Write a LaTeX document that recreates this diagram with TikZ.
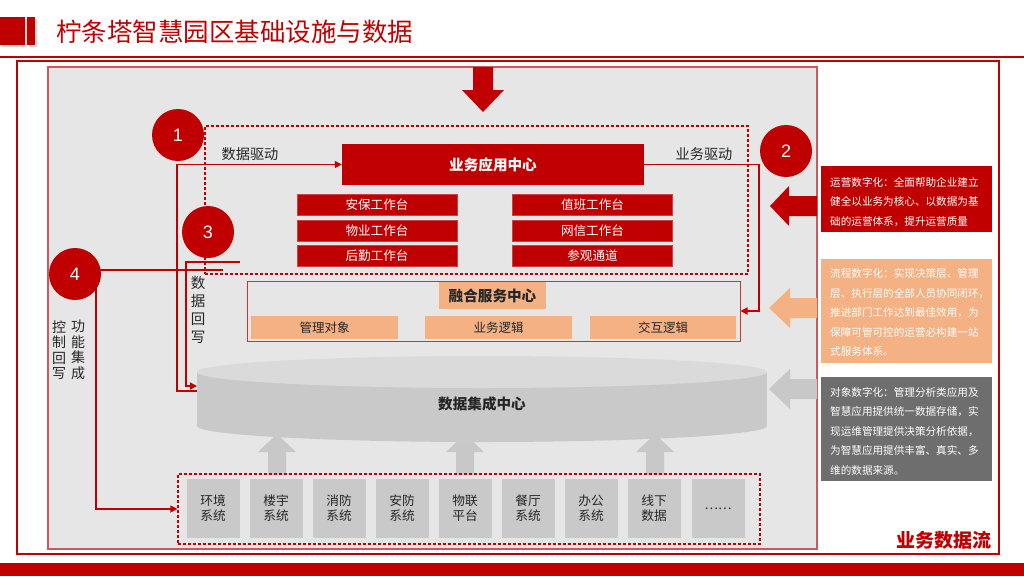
\documentclass[tikz,border=0pt]{standalone}
\usepackage{fontspec}
\setmainfont{Noto Sans CJK SC}
\newfontfamily\numf{Liberation Sans}
\usetikzlibrary{arrows.meta}
\definecolor{cred}{HTML}{C00000}
\definecolor{peach}{HTML}{F4B183}
\definecolor{bggray}{HTML}{E6E6E6}
\definecolor{boxgray}{HTML}{C9C9C9}
\definecolor{arrgray}{HTML}{C8C8C8}
\definecolor{darkbox}{HTML}{6E6E6E}
\definecolor{frametwo}{HTML}{D0585C}
\definecolor{cyltop}{HTML}{DADADA}
\definecolor{txtdark}{HTML}{262626}
\newcommand\fs[1]{\fontsize{#1}{#1}\selectfont}
\begin{document}
\begin{tikzpicture}[x=1pt,y=-1pt,
  numc/.style={circle, fill=cred, minimum size=52pt, inner sep=0pt, text=white, font=\numf\fs{18}},
  redbox/.style={fill=cred, draw=cred!75!white, line width=0.6pt, text=white, inner sep=0pt, minimum height=21pt, minimum width=160pt, font=\fs{12.6}},
  peachbox/.style={fill=peach, inner sep=0pt, minimum height=23pt, font=\fs{12.5}, text=txtdark},
  sysbox/.style={fill=boxgray, inner sep=0pt, minimum width=53pt, minimum height=59pt, align=center, font=\fontsize{12.7}{15}\selectfont, text=txtdark},
  conn/.style={draw=cred, line width=1.3pt},
  arr/.style={-{Triangle[length=7pt,width=7pt]}},
  dashbox/.style={draw=cred, line width=1.2pt, dash pattern=on 3pt off 2pt},
  lbl/.style={font=\fs{14.2}, text=txtdark, inner sep=0pt},
  vlbl/.style={font=\fontsize{14}{15.5}\selectfont, align=center, text=txtdark, inner sep=0pt},
  sidetxt/.style={anchor=west, align=left, text=white, inner sep=0pt, font=\fontsize{10.6}{19.5}\selectfont}
]
\useasboundingbox (0,0) rectangle (1024,576);
\fill[white] (0,0) rectangle (1024,576);
% title
\fill[gray!30] (2,19) rectangle (27,47);
\fill[gray!30] (29,19) rectangle (37,47);
\fill[cred] (0,17) rectangle (25,45);
\fill[cred] (27,17) rectangle (35,45);
\node[anchor=west, text=cred, font=\fs{25.5}, inner sep=0pt] (title) at (56,32) {柠条塔智慧园区基础设施与数据};
\draw[cred, line width=2.2pt] (0,57) -- (1024,57);
% frames
\draw[cred, line width=1.5pt, fill=white] (17,61) rectangle (999,554);
\draw[frametwo, line width=1.5pt, fill=bggray] (48,67) rectangle (817,549);
\fill[cred] (0,563) rectangle (1024,576);
% top arrow
\fill[cred] (473,67) -- (493,67) -- (493,90) -- (504,90) -- (483,112) -- (462,90) -- (473,90) -- cycle;
% right arrows
\fill[cred] (770,206) -- (789,186) -- (789,196) -- (817,196) -- (817,216) -- (789,216) -- (789,226) -- cycle;
\fill[peach] (769,308) -- (790,288) -- (790,298) -- (817,298) -- (817,318) -- (790,318) -- (790,328) -- cycle;
\fill[arrgray] (769,389) -- (790,369) -- (790,379) -- (817,379) -- (817,399) -- (790,399) -- (790,409) -- cycle;
% up arrows
\foreach \ax in {277,465,655}{
  \fill[arrgray] (\ax-9,475) -- (\ax-9,452) -- (\ax-19,452) -- (\ax,434) -- (\ax+19,452) -- (\ax+9,452) -- (\ax+9,475) -- cycle;
}
% cylinder
\fill[boxgray] (197,372) rectangle (767,426);
\fill[boxgray] (482,426) ellipse [x radius=285, y radius=16];
\fill[cyltop] (482,372) ellipse [x radius=285, y radius=16];
\node[font=\bfseries\fs{14.6}, text=txtdark] (cyl) at (482,404) {数据集成中心};
\coordinate (cylA) at (197,391);
\coordinate (cylB) at (197,386);
% app center
\node[dashbox, minimum width=543pt, minimum height=148pt, inner sep=0pt] (appzone) at (476.5,200) {};
\node[fill=cred, text=white, inner sep=0pt, minimum width=302pt, minimum height=41pt, font=\bfseries\fs{14.6}] (yy) at (493,164.5) {业务应用中心};
\node[redbox] (w1) at (377,205) {安保工作台};
\node[redbox] (w2) at (377,230.5) {物业工作台};
\node[redbox] (w3) at (377,255.5) {后勤工作台};
\node[redbox] (w4) at (592.5,205) {值班工作台};
\node[redbox] (w5) at (592.5,230.5) {网信工作台};
\node[redbox] (w6) at (592.5,255.5) {参观通道};
\node[lbl] (ld) at (250,154) {数据驱动};
\node[lbl] (lb) at (704,154) {业务驱动};
% ronghe
\node[draw=cred!80!white, line width=1pt, minimum width=493pt, minimum height=60pt, inner sep=0pt] (ronghe) at (493.5,311) {};
\node[fill=peach, minimum width=107pt, minimum height=27pt, inner sep=0pt, font=\bfseries\fs{14.6}, text=txtdark] (rt) at (492.5,295.5) {融合服务中心};
\node[peachbox, minimum width=147pt] (r1) at (324.5,327.5) {管理对象};
\node[peachbox, minimum width=147pt] (r2) at (498.5,327.5) {业务逻辑};
\node[peachbox, minimum width=146pt] (r3) at (663,327.5) {交互逻辑};
% systems
\node[dashbox, minimum width=582pt, minimum height=70pt, inner sep=0pt] (sys) at (469,509) {};
\node[sysbox] (s1) at (213,508.5) {环境\\系统};
\node[sysbox] (s2) at (276,508.5) {楼宇\\系统};
\node[sysbox] (s3) at (339,508.5) {消防\\系统};
\node[sysbox] (s4) at (402,508.5) {安防\\系统};
\node[sysbox] (s5) at (465,508.5) {物联\\平台};
\node[sysbox] (s6) at (528,508.5) {餐厅\\系统};
\node[sysbox] (s7) at (591,508.5) {办公\\系统};
\node[sysbox] (s8) at (654,508.5) {线下\\数据};
\node[sysbox] (s9) at (718,508.5) {……};
% connectors
\coordinate (wbS) at (240,262);
\coordinate (c4S) at (223,270);
\draw[conn, arr] (cylA) -- (177,391) |- (yy.west);
\draw[conn, arr] (yy.east) -- (759,164.5) |- (ronghe.east);
\draw[conn, arr] (wbS) -- (186,262) |- (cylB);
\draw[conn, arr] (c4S) -- (96,270) |- (sys.west);
% vertical labels
\node[vlbl, font=\fontsize{14.5}{18}\selectfont] (vh) at (198,310) {数\\据\\回\\写};
\node[vlbl] (vg) at (78,350) {功\\能\\集\\成};
\node[vlbl] (vk) at (59,350) {控\\制\\回\\写};
% circles
\node[numc] (n1) at (178,135) {1};
\node[numc] (n2) at (786,151) {2};
\node[numc] (n3) at (208,232) {3};
\node[numc] (n4) at (75,274) {4};
% right panel
\node[fill=cred, minimum width=171pt, minimum height=66pt, inner sep=0pt] (p1) at (906.5,199) {};
\node[fill=peach, minimum width=171pt, minimum height=104pt, inner sep=0pt] (p2) at (906.5,311) {};
\node[fill=darkbox, minimum width=171pt, minimum height=104pt, inner sep=0pt] (p3) at (906.5,429) {};
\node[sidetxt] (t1) at (830,202) {运营数字化：全面帮助企业建立\\健全以业务为核心、以数据为基\\础的运营体系，提升运营质量};
\node[sidetxt] (t2) at (830,312.5) {流程数字化：实现决策层、管理\\层、执行层的全部人员协同闭环，\\推进部门工作达到最佳效用，为\\保障可管可控的运营必构建一站\\式服务体系。};
\node[sidetxt] (t3) at (830,431) {对象数字化：管理分析类应用及\\智慧应用提供统一数据存储，实\\现运维管理提供决策分析依据，\\为智慧应用提供丰富、真实、多\\维的数据来源。};
\node[anchor=east, text=cred, font=\bfseries\fs{19}, inner sep=0pt] (flow) at (992,540) {业务数据流};
\end{tikzpicture}
\end{document}
